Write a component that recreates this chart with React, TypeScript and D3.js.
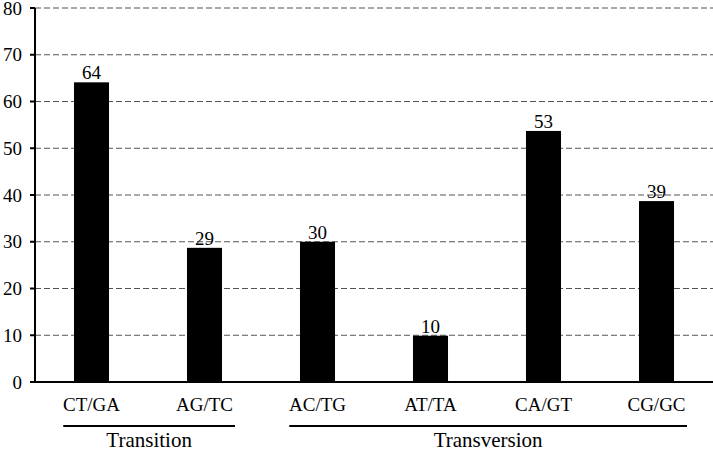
import React from "react";
import * as d3 from "d3";

const categories = ["CT/GA", "AG/TC", "AC/TG", "AT/TA", "CA/GT", "CG/GC"];
const barValues = [64.1, 28.7, 30, 9.9, 53.7, 38.7];
const valueLabels = ["64", "29", "30", "10", "53", "39"];
const yTicks = [0, 10, 20, 30, 40, 50, 60, 70, 80];
const groups = [
  { name: "Transition", from: "CT/GA", to: "AG/TC" },
  { name: "Transversion", from: "AC/TG", to: "CG/GC" },
];

const width = 713;
const height = 452;
const margin = { top: 8, right: 0, bottom: 70, left: 35 };
const font = "Liberation Serif, Times New Roman, DejaVu Serif, serif";

export default function App() {
  const x = d3
    .scaleBand()
    .domain(categories)
    .range([margin.left, width - margin.right])
    .paddingInner(0.69)
    .paddingOuter(0.345);
  const y = d3
    .scaleLinear()
    .domain([0, 80])
    .range([height - margin.bottom, margin.top]);

  const bw = x.bandwidth();
  const step = x.step();
  const y0 = y(0);
  const txt = { fontFamily: font, fill: "#000" };

  return (
    <svg
      width={width}
      height={height}
      style={{ position: "absolute", left: 0, top: 0, background: "#fff" }}
    >
      {/* gridlines */}
      {yTicks
        .filter((t) => t > 0)
        .map((t) => (
          <line
            key={"g" + t}
            x1={margin.left}
            x2={width}
            y1={y(t)}
            y2={y(t)}
            stroke="#555"
            strokeWidth={1}
            strokeDasharray="6,3"
          />
        ))}

      {/* bars */}
      {categories.map((c, i) => (
        <g key={c}>
          <rect
            x={x(c)}
            y={y(barValues[i])}
            width={bw}
            height={y0 - y(barValues[i])}
            fill="#000"
          />
          <text
            x={x(c)! + bw / 2}
            y={y(barValues[i]) - 3}
            textAnchor="middle"
            fontSize={19}
            style={txt}
          >
            {valueLabels[i]}
          </text>
          <text
            x={x(c)! + bw / 2}
            y={411}
            textAnchor="middle"
            fontSize={19}
            style={txt}
          >
            {c}
          </text>
        </g>
      ))}

      {/* axes */}
      <line x1={margin.left} x2={margin.left} y1={margin.top} y2={y0} stroke="#000" strokeWidth={2} />
      <line x1={margin.left - 5} x2={width} y1={y0} y2={y0} stroke="#000" strokeWidth={2} />
      {yTicks.map((t) => (
        <g key={"t" + t}>
          <line x1={margin.left - 5} x2={margin.left} y1={y(t)} y2={y(t)} stroke="#000" strokeWidth={2} />
          <text x={margin.left - 13} y={y(t)} dy="0.35em" textAnchor="end" fontSize={19} style={txt}>
            {t}
          </text>
        </g>
      ))}

      {/* group brackets */}
      {groups.map((g) => {
        const x1 = x(g.from)! + bw / 2 - step * 0.25;
        const x2 = x(g.to)! + bw / 2 + step * 0.27;
        return (
          <g key={g.name}>
            <line x1={x1} x2={x2} y1={426} y2={426} stroke="#000" strokeWidth={2} />
            <text x={(x1 + x2) / 2} y={447} textAnchor="middle" fontSize={21} style={txt}>
              {g.name}
            </text>
          </g>
        );
      })}
    </svg>
  );
}
